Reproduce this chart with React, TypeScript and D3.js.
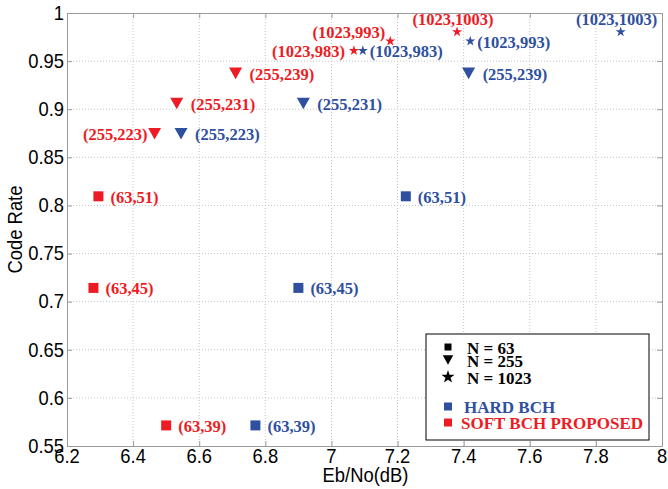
import React, { useEffect, useRef } from 'react';
import * as d3 from 'd3';

// Code rate vs Eb/No for BCH codes, hard decoding vs proposed soft decoding
const codeLabels = ['(63,39)', '(63,45)', '(63,51)', '(255,223)', '(255,231)', '(255,239)', '(1023,983)', '(1023,993)', '(1023,1003)'];
const codeLength = [63, 63, 63, 255, 255, 255, 1023, 1023, 1023];
const codeRate = [0.5714, 0.7143, 0.8095, 0.8745, 0.9059, 0.9373, 0.9609, 0.9707, 0.9804];
const hardEbNo = [6.77, 6.9, 7.225, 6.545, 6.915, 7.415, 7.095, 7.42, 7.875];
const softEbNo = [6.5, 6.28, 6.295, 6.465, 6.532, 6.71, 7.068, 7.178, 7.38];

// where each label sits relative to its marker
const hardLabelPos = ['right', 'right', 'right', 'right', 'right', 'right', 'right', 'right', 'above'];
const softLabelPos = ['right', 'right', 'right', 'left', 'right', 'right', 'left', 'aboveLeft', 'above'];

const xTicks = [6.2, 6.4, 6.6, 6.8, 7, 7.2, 7.4, 7.6, 7.8, 8];
const yTicks = [0.55, 0.6, 0.65, 0.7, 0.75, 0.8, 0.85, 0.9, 0.95, 1];

const RED = '#ed1c24';
const BLUE = '#2f4f9f';
const SERIF = '"Liberation Serif", "Times New Roman", serif';
const SANS = '"Liberation Sans", Arial, sans-serif';

const WIDTH = 668;
const HEIGHT = 489;
const margin = { top: 13, right: 6, bottom: 43, left: 67 };

const markerPath = (n: number, scale = 1) => {
  if (n === 63) return d3.symbol(d3.symbolSquare, 100 * scale * scale)();
  if (n === 255) {
    const w = 6.5 * scale, h = 5.8 * scale;
    return `M${-w},${-h}L${w},${-h}L0,${h}Z`;
  }
  return d3.symbol(d3.symbolStar, 32 * scale * scale)();
};

const drawChart = (container: SVGSVGElement) => {
  const svg = d3.select(container);
  svg.selectAll('*').remove();

  const innerWidth = WIDTH - margin.left - margin.right;
  const innerHeight = HEIGHT - margin.top - margin.bottom;

  const x = d3.scaleLinear().domain([6.2, 8]).range([margin.left, margin.left + innerWidth]);
  const y = d3.scaleLinear().domain([0.55, 1]).range([margin.top + innerHeight, margin.top]);

  svg.append('rect')
    .attr('width', WIDTH)
    .attr('height', HEIGHT)
    .attr('fill', 'white');

  // Grid lines
  const grid = svg.append('g');
  grid.selectAll('.gx')
    .data(xTicks.slice(1, -1))
    .enter()
    .append('line')
    .attr('x1', d => x(d)).attr('x2', d => x(d))
    .attr('y1', y(0.55)).attr('y2', y(1))
    .attr('stroke', '#c4c4c4')
    .attr('stroke-dasharray', '1,2');
  grid.selectAll('.gy')
    .data(yTicks.slice(1, -1))
    .enter()
    .append('line')
    .attr('x1', x(6.2)).attr('x2', x(8))
    .attr('y1', d => y(d)).attr('y2', d => y(d))
    .attr('stroke', '#c4c4c4')
    .attr('stroke-dasharray', '1,2');

  // Axes (boxed, ticks inside)
  const axisColor = '#9a9a9a';
  const axes = [
    { axis: d3.axisBottom(x).tickValues(xTicks), t: `translate(0,${y(0.55)})` },
    { axis: d3.axisTop(x).tickValues(xTicks), t: `translate(0,${y(1)})` },
    { axis: d3.axisLeft(y).tickValues(yTicks), t: `translate(${x(6.2)},0)` },
    { axis: d3.axisRight(y).tickValues(yTicks), t: `translate(${x(8)},0)` },
  ];
  axes.forEach(({ axis, t }) => {
    const g = svg.append('g')
      .attr('transform', t)
      .call(axis.tickSizeInner(-5).tickSizeOuter(0).tickFormat(() => ''));
    g.select('.domain').attr('stroke', axisColor);
    g.selectAll('.tick line').attr('stroke', axisColor);
  });

  // Tick labels
  svg.selectAll('.xl')
    .data(xTicks)
    .enter()
    .append('text')
    .attr('transform', d => `translate(${x(d)},${y(0.55) + 10}) scale(0.92,1)`)
    .attr('text-anchor', 'middle')
    .attr('dominant-baseline', 'central')
    .style('font-family', SANS)
    .style('font-size', '20px')
    .text(d => d3.format('~g')(d));
  svg.selectAll('.yl')
    .data(yTicks)
    .enter()
    .append('text')
    .attr('transform', d => `translate(${x(6.2) - 3},${y(d)}) scale(0.92,1)`)
    .attr('text-anchor', 'end')
    .attr('dominant-baseline', 'central')
    .style('font-family', SANS)
    .style('font-size', '20px')
    .text(d => d3.format('~g')(d));

  // Axis titles
  svg.append('text')
    .attr('transform', `translate(${x(7.1) + 1},${HEIGHT - 14}) scale(0.92,1)`)
    .attr('text-anchor', 'middle')
    .attr('dominant-baseline', 'central')
    .style('font-family', SANS)
    .style('font-size', '20px')
    .text('Eb/No(dB)');
  svg.append('text')
    .attr('transform', `translate(15,${y(0.775)}) rotate(-90) scale(0.92,1)`)
    .attr('text-anchor', 'middle')
    .attr('dominant-baseline', 'central')
    .style('font-family', SANS)
    .style('font-size', '20px')
    .text('Code Rate');

  // Series
  const series = [
    { xs: hardEbNo, color: BLUE, pos: hardLabelPos },
    { xs: softEbNo, color: RED, pos: softLabelPos },
  ];
  series.forEach(({ xs, color, pos }) => {
    const pts = xs.map((v, i) => ({ x: v, y: codeRate[i], n: codeLength[i], label: codeLabels[i], pos: pos[i] }));
    const g = svg.append('g');
    g.selectAll('path')
      .data(pts)
      .enter()
      .append('path')
      .attr('transform', d => `translate(${x(d.x)},${y(d.y)})`)
      .attr('d', d => markerPath(d.n))
      .attr('fill', color);

    g.selectAll('text')
      .data(pts)
      .enter()
      .append('text')
      .attr('x', d => {
        const gap = d.n === 63 ? 12 : d.n === 255 ? 14 : 7;
        if (d.pos === 'right') return x(d.x) + gap;
        if (d.pos === 'left') return x(d.x) - (d.n === 255 ? 7 : 9);
        if (d.pos === 'aboveLeft') return x(d.x) - 5;
        return x(d.x) - 4;
      })
      .attr('y', d => {
        if (d.pos === 'above') return y(d.y) - 12;
        if (d.pos === 'aboveLeft') return y(d.y) - 9;
        return y(d.y) + 1;
      })
      .attr('text-anchor', d => d.pos === 'right' ? 'start' : d.pos === 'above' ? 'middle' : 'end')
      .attr('dominant-baseline', 'central')
      .style('font-family', SERIF)
      .style('font-weight', 'bold')
      .style('font-size', '16.5px')
      .attr('fill', color)
      .text(d => d.label);
  });

  // Legend
  const lx = 426, ly = 334;
  const legend = svg.append('g').attr('transform', `translate(${lx},${ly})`);
  legend.append('rect')
    .attr('width', 223)
    .attr('height', 106)
    .attr('fill', 'white')
    .attr('stroke', 'black');

  const shapeRows = [
    { n: 63, label: 'N = 63', dy: 13, scale: 0.7 },
    { n: 255, label: 'N = 255', dy: 26, scale: 0.8 },
    { n: 1023, label: 'N = 1023', dy: 43, scale: 1.3 },
  ];
  shapeRows.forEach(r => {
    legend.append('path')
      .attr('transform', `translate(22,${r.dy})`)
      .attr('d', markerPath(r.n, r.scale))
      .attr('fill', 'black');
    legend.append('text')
      .attr('x', 41)
      .attr('y', r.dy + 1)
      .attr('dominant-baseline', 'central')
      .style('font-family', SERIF)
      .style('font-weight', 'bold')
      .style('font-size', '17px')
      .text(r.label);
  });

  const colorRows = [
    { color: BLUE, label: 'HARD BCH', dy: 72.5, tx: 38 },
    { color: RED, label: 'SOFT BCH PROPOSED', dy: 88.5, tx: 35 },
  ];
  colorRows.forEach(r => {
    legend.append('rect')
      .attr('x', 18).attr('y', r.dy - 4)
      .attr('width', 8).attr('height', 8)
      .attr('fill', r.color);
    legend.append('text')
      .attr('x', r.tx)
      .attr('y', r.dy + 1)
      .attr('dominant-baseline', 'central')
      .style('font-family', SERIF)
      .style('font-weight', 'bold')
      .style('font-size', '17px')
      .attr('fill', r.color)
      .text(r.label);
  });
};

const App = () => {
  const ref = useRef<SVGSVGElement>(null);

  useEffect(() => {
    if (ref.current) drawChart(ref.current);
  }, []);

  return (
    <svg
      ref={ref}
      width={WIDTH}
      height={HEIGHT}
      style={{ position: 'absolute', left: 0, top: 0, display: 'block' }}
    />
  );
};

export default App;
